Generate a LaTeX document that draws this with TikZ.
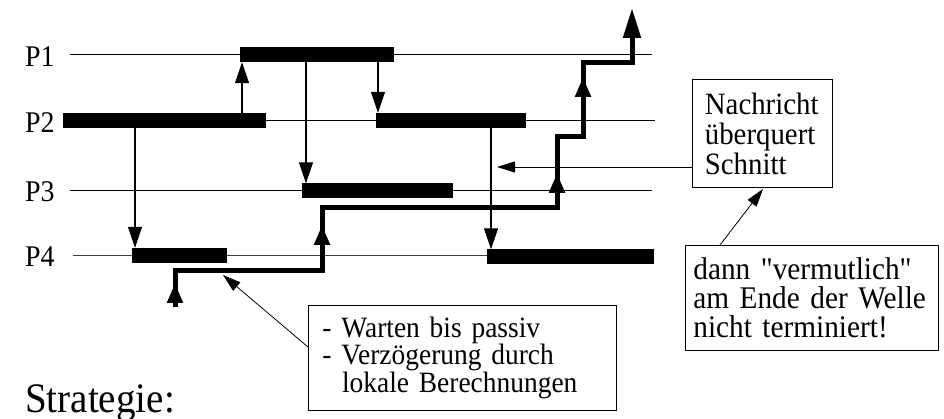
\documentclass[tikz,border=0pt]{standalone}
\usepackage{fontspec}
\newfontfamily\tnr{Liberation Serif}[FakeStretch=0.93]
\usetikzlibrary{arrows.meta}
\begin{document}
\begin{tikzpicture}[x=1pt,y=-1pt,
  proc/.style={line width=1pt},
  bar/.style={fill=black, inner sep=0pt, minimum height=15pt, anchor=west},
  msg/.style={line width=1.2pt, -{Triangle[length=21pt,width=14pt]}},
  note/.style={line width=0.8pt, -{Triangle[length=18pt,width=11pt]}},
  wave/.style={line width=5pt, line join=miter},
  wavehead/.style={line width=5pt, -{Triangle[length=20pt,width=15pt]}},
  plabel/.style={font=\tnr\fontsize{30}{30}\selectfont, anchor=base west, inner sep=0pt},
  box/.style={draw, line width=0.8pt, anchor=north west, align=left, inner xsep=0pt, inner ysep=0pt}
]
\useasboundingbox (0,0) rectangle (944,419);

% process labels
\node[plabel] (l1) at (25,67) {P1};
\node[plabel] (l2) at (25,133) {P2};
\node[plabel] (l3) at (25,202) {P3};
\node[plabel] (l4) at (25,267) {P4};

% process lines
\coordinate (e1) at (652,54.5);
\coordinate (s1) at (70,54.5);
\draw[proc] (s1) -- (e1);
\coordinate (e2) at (655,120.5);
\coordinate (s2) at (63,120.5);
\draw[proc] (s2) -- (e2);
\coordinate (s3) at (70,191);
\coordinate (e3) at (652,191);
\draw[proc] (s3) -- (e3);
\coordinate (s4) at (73,256);
\coordinate (e4) at (654,256);
\draw[proc, black!75] (s4) -- (e4);

% bars
\node[bar, minimum width=154pt] (b1) at (240,54.5) {};
\node[bar, minimum width=203pt] (b2a) at (63,120.5) {};
\node[bar, minimum width=150pt] (b2b) at (376,120.5) {};
\node[bar, minimum width=151pt] (b3) at (302,191) {};
\node[bar, minimum width=95pt] (b4a) at (132,255.5) {};
\node[bar, minimum width=167pt] (b4b) at (487,257) {};

% messages
\coordinate (m1) at (242,0);
\coordinate (m2) at (306,0);
\coordinate (m3) at (378,0);
\coordinate (m4) at (135,0);
\coordinate (m5) at (491,0);
\draw[msg] (b2a.north -| m1) -- (b1.south -| m1);
\draw[msg] (b1.south -| m2) -- (b3.north -| m2);
\draw[msg] (b1.south -| m3) -- (b2b.north -| m3);
\draw[msg] (b2a.south -| m4) -- (b4a.north -| m4);
\draw[msg] (b2b.south -| m5) -- (b4b.north -| m5);

% wave (cut)
\coordinate (w0) at (175,307);
\coordinate (w1) at (175,271);
\coordinate (w2) at (322,271);
\coordinate (w3) at (322,208);
\coordinate (w4) at (557,208);
\coordinate (w5) at (557,137);
\coordinate (w6) at (583,137);
\coordinate (w7) at (583,63);
\coordinate (w8) at (632,63);
\coordinate (w9) at (632,8);
\draw[wave] (w0) -- (w1) -- (w2) -- (w3) -- (w4) -- (w5) -- (w6) -- (w7) -- (w8) -- (632,38);
\draw[line width=5pt, -{Triangle[length=30pt,width=17pt]}] (632,45) -- (w9);
\draw[wavehead] (175,300) -- (175,283);
\draw[wavehead] (322,245) -- (322,225);
\draw[wavehead] (557,195) -- (557,173);
\draw[wavehead] (583,102) -- (583,77);

% annotation boxes
\node[box, minimum width=140pt, minimum height=108pt, text width=135pt,
      font=\tnr\fontsize{31}{30}\selectfont] (nb) at (692,79)
  {\hspace*{10pt}Nachricht\\\hspace*{10pt}überquert\\\hspace*{10pt}Schnitt};
\node[box, minimum width=253pt, minimum height=105pt, text width=253pt,
      font=\tnr\fontsize{31.5}{29}\selectfont] (db) at (685,245)
  {\hspace*{8pt}dann "vermutlich"\\\hspace*{8pt}am Ende der Welle\\\hspace*{8pt}nicht terminiert!};
\node[box, minimum width=308pt, minimum height=105pt, text width=308pt,
      font=\tnr\fontsize{29.5}{27.5}\selectfont] (wb) at (308,305)
  {\hspace*{14pt}- Warten bis passiv\\\hspace*{14pt}- Verzögerung durch\\\hspace*{14pt}\ \ lokale Berechnungen};

% annotation arrows
\coordinate (cN) at (0,167);
\coordinate (tN) at (497,167);
\draw[note] (nb.west |- cN) -- (tN);
\coordinate (cD) at (720,0);
\coordinate (tD) at (763,189);
\draw[note] (db.north -| cD) -- (tD);
\coordinate (cW) at (0,347);
\coordinate (tW) at (223,275);
\draw[note] (wb.west |- cW) -- (tW);

\node[font=\tnr\fontsize{42}{42}\selectfont, anchor=base west, inner sep=0pt] (strat) at (25,412) {Strategie:};
\end{tikzpicture}
\end{document}
